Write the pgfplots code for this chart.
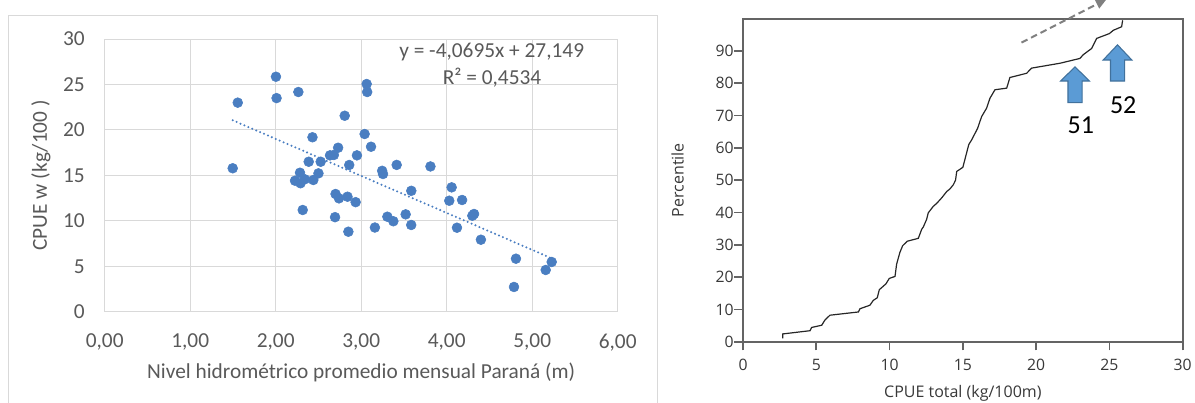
\documentclass[border=0pt]{standalone}
\usepackage{pgfplots}
\pgfplotsset{compat=1.18}
\usetikzlibrary{arrows.meta}
\usepackage{fontspec}
\setmainfont{Carlito}
\newfontfamily\segoe{Open Sans}
\definecolor{ptblue}{RGB}{74,126,193}
\definecolor{txtgray}{RGB}{89,89,89}
\definecolor{gridgray}{RGB}{217,217,217}
\definecolor{arrfill}{RGB}{91,155,213}
\definecolor{arrdraw}{RGB}{65,113,156}
\definecolor{axgray}{RGB}{100,100,100}
\begin{document}
\begin{tikzpicture}
\draw[gridgray, line width=0.75pt] (6pt,-5pt) -- (6pt,290.25pt) -- (492.75pt,290.25pt) -- (492.75pt,-5pt);
\begin{axis}[
  at={(78.53pt,68.48pt)}, anchor=south west,
  scale only axis, width=384.75pt, height=204.5pt,
  xmin=0, xmax=6, ymin=0, ymax=30,
  xtick={0,1,...,6}, xticklabels={{0,00},{1,00},{2,00},{3,00},{4,00},{5,00},{6,00}},
  ytick={0,5,...,30}, yticklabels={0,5,10,15,20,25,30},
  grid=major, major grid style={gridgray, line width=0.75pt},
  axis line style={draw=none}, major tick length=0pt,
  tick label style={font=\fontsize{16}{19}\selectfont, text=txtgray},
  xticklabel style={yshift=-13pt},
  yticklabel style={xshift=-11.5pt},
  every axis x label/.style={at={(rel axis cs:0.5,0)}, yshift=-45.2pt, anchor=center},
  every axis y label/.style={at={(rel axis cs:0,0.5)}, xshift=-47.8pt, rotate=90, anchor=center},
  label style={font=\fontsize{16}{19}\selectfont, text=txtgray},
  xlabel={Nivel hidrométrico promedio mensual Paraná (m)},
  ylabel={CPUE w (kg/100 )},
  clip=false,
]
\addplot[only marks, mark=*, mark size=3.7pt, ptblue, mark options={draw=ptblue, fill=ptblue}] coordinates {
(1.497,15.78) (1.556,23.0) (2.003,25.85) (2.010,23.5) (2.265,24.17)
(2.226,14.41) (2.284,15.29) (2.29,14.13) (2.316,11.19) (2.34,14.57)
(2.386,16.5) (2.43,19.19) (2.44,14.49) (2.50,15.22) (2.526,16.5)
(2.635,17.2) (2.68,17.24) (2.694,10.4) (2.70,12.95) (2.74,12.47)
(2.73,18.04) (2.807,21.56) (2.84,12.65) (2.85,8.8) (2.86,16.14)
(2.935,12.05) (2.95,17.2) (3.04,19.55) (3.064,25.05) (3.07,24.17)
(3.115,18.15) (3.16,9.26) (3.245,15.5) (3.255,15.15) (3.306,10.45)
(3.376,9.95) (3.415,16.15) (3.52,10.71) (3.586,13.3) (3.585,9.54)
(3.81,15.98) (4.03,12.21) (4.058,13.68) (4.12,9.24) (4.18,12.29)
(4.30,10.56) (4.32,10.75) (4.40,7.92) (4.787,2.72) (4.81,5.83)
(5.158,4.59) (5.228,5.47)
};
\addplot[ptblue, line width=1.7pt, line cap=round, dash pattern=on 0pt off 3.2pt] coordinates {(1.497,21.06) (5.228,5.87)};
\node[font=\fontsize{16}{19}\selectfont, text=txtgray] at (axis cs:4.526,28.57) {y = -4,0695x + 27,149};
\node[font=\fontsize{16}{19}\selectfont, text=txtgray] at (axis cs:4.53,25.71) {R² = 0,4534};
\end{axis}

\begin{axis}[
  at={(557.25pt,45.98pt)}, anchor=south west,
  scale only axis, width=329.8pt, height=242.25pt,
  xmin=0, xmax=30, ymin=0, ymax=100,
  xtick={0,5,...,30}, xticklabels={0,5,10,15,20,25,30},
  ytick={0,10,...,90}, yticklabels={0,10,20,30,40,50,60,70,80,90},
  axis line style={axgray, line width=1.6pt},
  tick style={axgray, line width=1.3pt},
  tick align=outside, major tick length=6.5pt,
  xtick pos=lower, ytick pos=left,
  tick label style={font=\segoe\fontsize{11.8}{13}\selectfont, text=black!78},
  xticklabel style={yshift=-3pt},
  yticklabel style={xshift=3pt},
  every axis x label/.style={at={(rel axis cs:0.5,0)}, yshift=-38.5pt, anchor=center},
  every axis y label/.style={at={(rel axis cs:0,0.5)}, xshift=-49pt, rotate=90, anchor=center},
  label style={font=\segoe\fontsize{12}{14}\selectfont, text=black!78},
  xlabel={CPUE total (kg/100m)}, ylabel={Percentile},
  clip=false,
]
\addplot[black!85, line width=0.9pt] coordinates {
(2.71,1.0) (2.71,2.4) (4.57,3.4) (4.68,4.4) (5.37,5.1) (5.59,6.7) (5.93,8.2)
(7.87,9.2) (7.98,10.2) (8.66,11.3) (8.89,12.8) (9.16,13.6) (9.30,16.1)
(9.75,17.9) (9.98,19.6) (10.37,20.2) (10.48,24.0) (10.70,27.6) (10.89,29.7)
(11.2,31.1) (11.96,32.0) (12.19,34.8) (12.3,35.5) (12.53,37.9) (12.64,39.9)
(12.98,41.9) (13.21,42.8) (13.55,44.5) (13.9,46.5) (14.12,47.3) (14.35,48.6)
(14.5,50.0) (14.58,52.7) (15.0,54.0) (15.2,57.5) (15.4,61.0) (15.6,62.5)
(16.0,66.0) (16.28,69.7) (16.62,72.3) (16.85,75.4) (17.19,78.0) (17.99,78.5)
(18.21,81.8) (19.35,83.1) (19.69,84.7) (21.62,86.2) (22.99,87.7) (23.2,88.8)
(23.79,90.8) (24.13,93.9) (25.0,95.4) (25.26,96.4) (25.83,97.5) (25.9,99.5)
};
\filldraw[fill=arrfill, draw=arrdraw, line width=0.8pt]
 (axis cs:22.17,74.0) -- (axis cs:22.17,80.7) -- (axis cs:21.67,80.7) -- (axis cs:22.65,85.1)
 -- (axis cs:23.63,80.7) -- (axis cs:23.13,80.7) -- (axis cs:23.13,74.0) -- cycle;
\filldraw[fill=arrfill, draw=arrdraw, line width=0.8pt]
 (axis cs:25.07,80.7) -- (axis cs:25.07,87.2) -- (axis cs:24.57,87.2) -- (axis cs:25.55,91.9)
 -- (axis cs:26.53,87.2) -- (axis cs:26.03,87.2) -- (axis cs:26.03,80.7) -- cycle;
\node[font=\fontsize{19.5}{22}\selectfont] at (axis cs:23.05,67.1) {51};
\node[font=\fontsize{19.5}{22}\selectfont] at (axis cs:25.94,73.3) {52};
\draw[gray, line width=1.5pt, dash pattern=on 5pt off 3pt, -{Triangle[length=8pt,width=7pt]}] (axis cs:19.0,92.6) -- (axis cs:24.8,106);
\end{axis}
\pgfresetboundingbox
\path (0,0) rectangle (896.25pt,302.25pt);
\end{tikzpicture}
\end{document}
